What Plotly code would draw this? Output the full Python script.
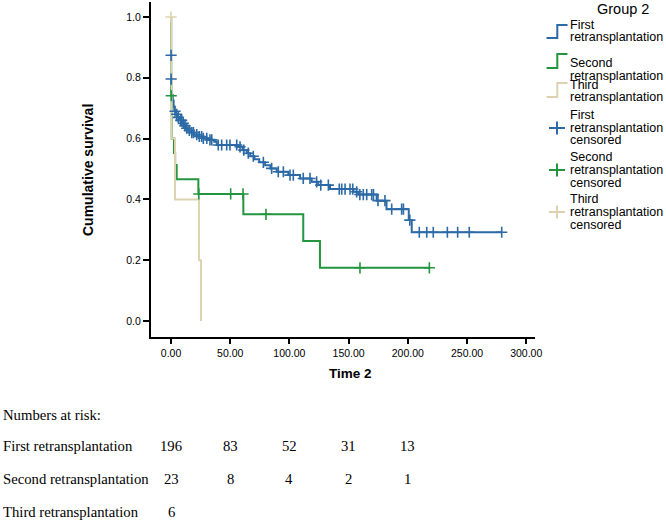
import plotly.graph_objects as go

# ---------------- data ----------------
# First retransplantation: step events (time, survival after step)
first_event_t = [0.03, 0.09, 0.3, 1.5, 2.2, 2.8, 4.0, 5.5, 7.0, 9.3, 11.0, 12.5, 14.5, 17.0,
                 19.5, 22.5, 26.5, 31.0, 36.5, 38.6, 56.5, 60.5, 64.0, 67.0, 70.5, 74.5,
                 79.5, 84.0, 89.3, 99.1, 109.0, 118.8, 124.4, 134.3, 154.0, 158.2, 173.7,
                 182.0, 200.8, 203.3]
first_event_s = [0.874, 0.796, 0.743, 0.725, 0.705, 0.690, 0.680, 0.670, 0.660, 0.650, 0.642,
                 0.634, 0.627, 0.620, 0.613, 0.607, 0.601, 0.596, 0.590, 0.579, 0.573, 0.562,
                 0.552, 0.542, 0.532, 0.522, 0.512, 0.502, 0.491, 0.480, 0.469, 0.458, 0.447,
                 0.434, 0.425, 0.416, 0.396, 0.368, 0.332, 0.292]
first_censor_t = [0.06, 0.12, 3.4, 4.8, 6.2, 8.2, 9.0, 10.4, 11.8, 13.3, 15.5, 17.5, 18.9,
                  21.7, 23.9, 25.9, 27.3, 30.2, 32.9, 34.4, 39.9, 42.8, 47.0, 49.8, 55.5,
                  58.3, 61.5, 65.3, 69.5, 78.0, 85.0, 90.6, 94.9, 100.5, 103.3, 111.7, 117.4,
                  123.0, 126.5, 132.9, 142.1, 144.2, 147.0, 151.2, 153.5, 156.8, 159.5, 162.4,
                  165.3, 169.5, 171.0, 174.8, 180.7, 186.4, 194.8, 196.3, 201.7, 209.7, 216.0,
                  221.5, 233.4, 242.1, 251.9, 279.3]

# Second retransplantation
second_event_t = [0.1, 0.6, 2.5, 3.5, 4.8, 23.1, 61.1, 111.7, 125.8]
second_event_s = [0.741, 0.600, 0.553, 0.513, 0.466, 0.418, 0.351, 0.263, 0.175]
second_censor_t = [0.2, 23.5, 50.4, 60.8, 80.2, 159.6, 218.2]

# Third retransplantation
third_event_t = [0.2, 0.5, 3.4, 23.6, 25.3]
third_event_s = [0.8, 0.6, 0.4, 0.2, 0.0]
third_censor_t = [0.0]

group_names = ["First retransplantation", "Second retransplantation", "Third retransplantation"]

# Numbers at risk
risk_times = [0, 50, 100, 150, 200]
risk_first = [196, 83, 52, 31, 13]
risk_second = [23, 8, 4, 2, 1]
risk_third = [6]

x_ticks = [0, 50, 100, 150, 200, 250, 300]
y_ticks = [0.0, 0.2, 0.4, 0.6, 0.8, 1.0]

# ---------------- styling ----------------
BLUE = "#2C6AA6"
GREEN = "#23953F"
TAN = "#DDD3B0"
SANS = "Liberation Sans, Arial, sans-serif"
SERIF = "Liberation Serif, Times New Roman, serif"

# pixel frame of plot area
L, R, T, B = 151, 535, 2, 337
W, H = R - L, B - T
def px(x):
    return (x - L) / W
def py(y):
    return (B - y) / H


def step_xy(ev_t, ev_s, end_t):
    xs = [0.0] + list(ev_t)
    ys = [1.0] + list(ev_s)
    if end_t is not None and end_t > xs[-1]:
        xs.append(end_t)
        ys.append(ys[-1])
    return xs, ys


def surv_at(t, ev_t, ev_s):
    s = 1.0
    for et, es in zip(ev_t, ev_s):
        if et <= t:
            s = es
    return s


fig = go.Figure()

series = [
    (first_event_t, first_event_s, first_censor_t, BLUE),
    (second_event_t, second_event_s, second_censor_t, GREEN),
    (third_event_t, third_event_s, third_censor_t, TAN),
]

for (et, es, ct, col), name in zip(series, group_names):
    end_t = max(ct) if ct else None
    xs, ys = step_xy(et, es, end_t)
    fig.add_trace(go.Scatter(x=xs, y=ys, mode="lines", line=dict(color=col, width=2, shape="hv"),
                             name=name, showlegend=False, hoverinfo="skip"))

for (et, es, ct, col), name in zip(series, group_names):
    cy = [surv_at(t, et, es) for t in ct]
    fig.add_trace(go.Scatter(x=ct, y=cy, mode="markers",
                             marker=dict(symbol="cross-thin", size=8, line=dict(color=col, width=1.6)),
                             name=name + " censored", showlegend=False, hoverinfo="skip"))

annotations = []
shapes = []

# axis titles
annotations.append(dict(text="<b>Cumulative survival</b>", x=px(88), y=py(170), xref="paper", yref="paper",
                        textangle=-90, showarrow=False, font=dict(family=SANS, size=14, color="black"),
                        xanchor="center", yanchor="middle"))
annotations.append(dict(text="<b>Time 2</b>", x=px(350), y=py(373), xref="paper", yref="paper",
                        showarrow=False, font=dict(family=SANS, size=13.5, color="black"),
                        xanchor="center", yanchor="middle"))

# legend (drawn manually to reproduce step icons)
LEG_FONT = 12.5
annotations.append(dict(text="Group 2", x=px(623), y=py(9), xref="paper", yref="paper", showarrow=False,
                        font=dict(family=SANS, size=14.5, color="black"), xanchor="center", yanchor="middle"))
leg_line_rows = [(25, 38, ["First", "retransplantation"], [25, 37], BLUE),
                 (54, 68, ["Second", "retransplantation"], [63, 76], GREEN),
                 (83, 97, ["Third", "retransplantation"], [85, 97], TAN)]
for hi, lo, words, ys_, col in leg_line_rows:
    path = "M %f,%f L %f,%f L %f,%f L %f,%f" % (px(546.5), py(lo), px(557.3), py(lo), px(557.3), py(hi),
                                                 px(567.5), py(hi))
    shapes.append(dict(type="path", path=path, xref="paper", yref="paper", line=dict(color=col, width=2)))
    for w, yy in zip(words, ys_):
        annotations.append(dict(text=w, x=px(569), y=py(yy), xref="paper", yref="paper", showarrow=False,
                                font=dict(family=SANS, size=LEG_FONT, color="black"), xanchor="left",
                                yanchor="middle", borderpad=0))
leg_cens_rows = [(["First", "retransplantation", "censored"], [115, 128, 140], BLUE),
                 (["Second", "retransplantation", "censored"], [157, 170, 183], GREEN),
                 (["Third", "retransplantation", "censored"], [199, 212, 225], TAN)]
for words, ys_, col in leg_cens_rows:
    cyp = ys_[1]
    shapes.append(dict(type="line", x0=px(549), x1=px(565), y0=py(cyp), y1=py(cyp), xref="paper",
                       yref="paper", line=dict(color=col, width=2)))
    shapes.append(dict(type="line", x0=px(557), x1=px(557), y0=py(cyp - 6.5), y1=py(cyp + 6.5),
                       xref="paper", yref="paper", line=dict(color=col, width=2)))
    for w, yy in zip(words, ys_):
        annotations.append(dict(text=w, x=px(569), y=py(yy), xref="paper", yref="paper", showarrow=False,
                                font=dict(family=SANS, size=LEG_FONT, color="black"), xanchor="left",
                                yanchor="middle", borderpad=0))

# numbers at risk table
annotations.append(dict(text="Numbers at risk:", x=px(1), y=py(415), xref="paper", yref="paper",
                        showarrow=False, font=dict(family=SERIF, size=14.7, color="black"),
                        xanchor="left", yanchor="middle"))
row_y = [446, 479, 512]
for name, counts, yy in zip(group_names, [risk_first, risk_second, risk_third], row_y):
    annotations.append(dict(text=name, x=px(1), y=py(yy), xref="paper", yref="paper", showarrow=False,
                            font=dict(family=SERIF, size=14.7, color="black"), xanchor="left",
                            yanchor="middle"))
    for t, n in zip(risk_times, counts):
        annotations.append(dict(text=str(n), x=t, y=py(yy), xref="x", yref="paper", showarrow=False,
                                font=dict(family=SERIF, size=14.7, color="black"), xanchor="center",
                                yanchor="middle"))

fig.update_layout(
    width=666, height=521,
    margin=dict(l=L, r=666 - R, t=T, b=521 - B, pad=0),
    paper_bgcolor="white", plot_bgcolor="white",
    showlegend=False,
    font=dict(family=SANS, color="black"),
    xaxis=dict(range=[-16.9, -16.9 + W / 1.184], tickvals=x_ticks,
               ticktext=["%.2f" % v for v in x_ticks], showgrid=False, zeroline=False,
               showline=True, linecolor="black", linewidth=2, ticks="outside", ticklen=5,
               tickwidth=2, tickcolor="black", tickfont=dict(family=SANS, size=10.5, color="black")),
    yaxis=dict(range=[-0.0526, -0.0526 + H / 304.0], tickvals=y_ticks,
               ticktext=["%.1f" % v for v in y_ticks], showgrid=False, zeroline=False,
               showline=True, linecolor="black", linewidth=2, ticks="outside", ticklen=6,
               tickwidth=2, tickcolor="black", tickfont=dict(family=SANS, size=10.5, color="black")),
    annotations=annotations,
    shapes=shapes,
)

fig.write_html("out.html", config={"displayModeBar": False, "staticPlot": True},
               post_script="document.body.style.margin='0px';document.body.style.overflow='hidden';")
